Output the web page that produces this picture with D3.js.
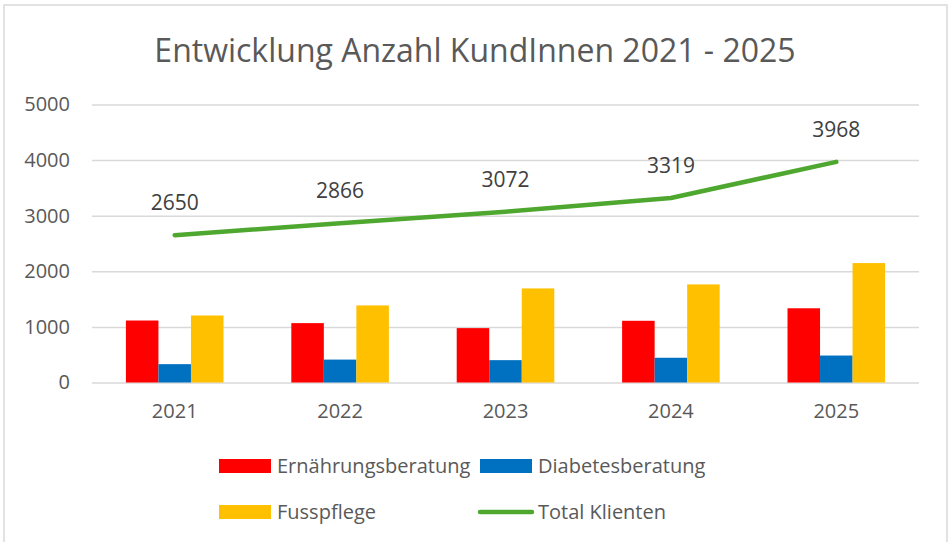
<!DOCTYPE html>
<html>
<head>
<meta charset="utf-8">
<script src="https://cdn.jsdelivr.net/npm/d3@7"></script>
<style>
    body { margin: 0; background: #fff; }
    text { font-family: "Open Sans", sans-serif; }
</style>
</head>
<body>
<div id="chart"></div>
<script>
const years = ["2021", "2022", "2023", "2024", "2025"];
const ernaehrung = [1115, 1068, 978, 1110, 1335];
const diabetes = [330, 412, 402, 445, 485];
const fusspflege = [1205, 1386, 1692, 1764, 2148];
const total = [2650, 2866, 3072, 3319, 3968];
const yTicks = [0, 1000, 2000, 3000, 4000, 5000];

const barSeries = [
    {name: "Ernährungsberatung", values: ernaehrung, color: "#ff0000"},
    {name: "Diabetesberatung", values: diabetes, color: "#0070c0"},
    {name: "Fusspflege", values: fusspflege, color: "#ffc000"}
];
const lineColor = "#4ea72e";

const W = 949, H = 542;
const margin = {top: 104.5, right: 30, bottom: 159.5, left: 92};
const width = W - margin.left - margin.right;
const height = H - margin.top - margin.bottom;

const svg = d3.select("#chart")
    .append("svg")
    .attr("width", W)
    .attr("height", H);

// Rahmen
svg.append("path")
    .attr("d", "M4,542V5H947V542")
    .attr("fill", "none")
    .attr("stroke", "#d9d9d9")
    .attr("stroke-width", 1.5);

svg.append("text")
    .attr("x", 475)
    .attr("y", 62)
    .attr("text-anchor", "middle")
    .attr("font-size", 32)
    .attr("fill", "#595959")
    .text("Entwicklung Anzahl KundInnen 2021 - 2025");

const g = svg.append("g")
    .attr("transform", "translate(" + margin.left + "," + margin.top + ")");

const x = d3.scaleBand()
    .domain(years)
    .range([0, width])
    .paddingInner(0.41)
    .paddingOuter(0.205);

const xSub = d3.scaleBand()
    .domain(barSeries.map(s => s.name))
    .range([0, x.bandwidth()]);

const y = d3.scaleLinear()
    .domain([0, 5000])
    .range([height, 0]);

// Gitterlinien
g.append("g")
    .call(d3.axisLeft(y).tickValues(yTicks).tickSize(-width).tickFormat(""))
    .call(a => a.select(".domain").remove())
    .call(a => a.selectAll("line").attr("stroke", "#d9d9d9").attr("stroke-width", 1.5));

// Y Achse
g.append("g")
    .attr("transform", "translate(-22,0)")
    .call(d3.axisLeft(y).tickValues(yTicks).tickSize(0).tickPadding(0).tickFormat(d3.format("d")))
    .call(a => a.select(".domain").remove())
    .call(a => a.selectAll("text")
        .attr("font-size", 20)
        .attr("fill", "#595959")
        .style("font-family", "'Open Sans', sans-serif"));

// X Achse
g.append("g")
    .attr("transform", "translate(0," + height + ")")
    .call(d3.axisBottom(x).tickSize(0).tickPadding(21))
    .call(a => a.select(".domain").remove())
    .call(a => a.selectAll("text")
        .attr("font-size", 20)
        .attr("fill", "#595959")
        .style("font-family", "'Open Sans', sans-serif"));

// Balken
barSeries.forEach(s => {
    g.append("g")
        .selectAll("rect")
        .data(years)
        .join("rect")
        .attr("x", (d, i) => x(d) + xSub(s.name))
        .attr("y", (d, i) => y(s.values[i]))
        .attr("width", xSub.bandwidth())
        .attr("height", (d, i) => y(0) - y(s.values[i]))
        .attr("fill", s.color);
});

// Linie
g.append("path")
    .datum(total)
    .attr("fill", "none")
    .attr("stroke", lineColor)
    .attr("stroke-width", 4.5)
    .attr("stroke-linecap", "round")
    .attr("stroke-linejoin", "round")
    .attr("d", d3.line()
        .x((d, i) => x(years[i]) + x.bandwidth() / 2)
        .y(d => y(d))
    );

g.append("g")
    .selectAll("text")
    .data(total)
    .join("text")
    .attr("x", (d, i) => x(years[i]) + x.bandwidth() / 2)
    .attr("y", d => y(d) - 25)
    .attr("text-anchor", "middle")
    .attr("font-size", 21)
    .attr("fill", "#404040")
    .text(d => d);

// Legende
const legendItems = [
    {name: barSeries[0].name, color: barSeries[0].color, type: "rect", x: 219, y: 466},
    {name: barSeries[1].name, color: barSeries[1].color, type: "rect", x: 480, y: 466},
    {name: barSeries[2].name, color: barSeries[2].color, type: "rect", x: 219, y: 512},
    {name: "Total Klienten", color: lineColor, type: "line", x: 480, y: 512}
];

const legend = svg.append("g")
    .selectAll("g")
    .data(legendItems)
    .join("g")
    .attr("transform", d => "translate(" + d.x + "," + d.y + ")");

legend.filter(d => d.type === "rect")
    .append("rect")
    .attr("x", 0)
    .attr("y", -7)
    .attr("width", 52)
    .attr("height", 14)
    .attr("fill", d => d.color);

legend.filter(d => d.type === "line")
    .append("line")
    .attr("x1", 0)
    .attr("x2", 52)
    .attr("stroke", d => d.color)
    .attr("stroke-width", 4.5)
    .attr("stroke-linecap", "round");

legend.append("text")
    .attr("x", 58)
    .attr("dy", "0.35em")
    .attr("font-size", 20)
    .attr("fill", "#595959")
    .text(d => d.name);
</script>
</body>
</html>
